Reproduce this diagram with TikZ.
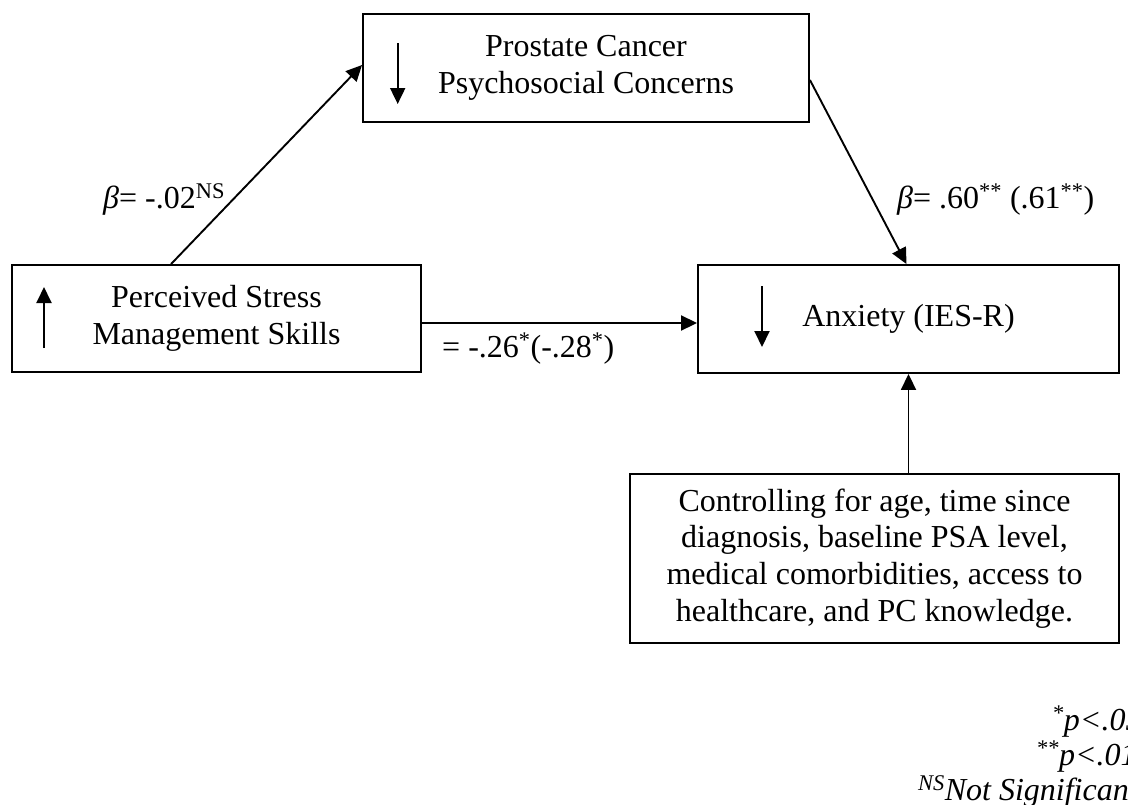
\documentclass[tikz,border=0pt]{standalone}
\usepackage{fontspec}
\setmainfont{Liberation Serif}
\usetikzlibrary{arrows.meta,calc}
\begin{document}
\begin{tikzpicture}[x=1pt,y=-1pt,
  every node/.style={font=\fontsize{32}{36.7}\selectfont},
  boxnode/.style={draw,line width=1.9pt,rectangle,inner sep=0pt,align=center},
  conn/.style={line width=1.9pt,-{Triangle[length=16pt,width=15pt]}},
  lbl/.style={anchor=base west,inner sep=0pt}]
\useasboundingbox (0,0) rectangle (1128,804);
\clip (0,0) rectangle (1128,804);
% boxes
\node[boxnode,minimum width=446pt,minimum height=108pt] (pc) at (586,68) {Prostate Cancer\\Psychosocial Concerns};
\node[boxnode,minimum width=409pt,minimum height=107pt] (ps) at (216.5,318.5) {Perceived Stress\\Management Skills};
\node[boxnode,minimum width=421pt,minimum height=108pt] (anx) at (908.5,319) {Anxiety (IES-R)};
\node[boxnode,minimum width=489pt,minimum height=169pt] (ctrl) at (874.5,558.5) {Controlling for age, time since\\diagnosis, baseline PSA level,\\medical comorbidities, access to\\healthcare, and PC knowledge.};
% direction arrows inside boxes
\draw[conn] (397.7,43) -- (397.7,104);
\draw[conn] (44,348) -- (44,287);
\draw[conn] (762,286) -- (762,347);
% connectors
\draw[conn] ([xshift=160pt]ps.north west) -- ([yshift=3pt]pc.west);
\draw[conn] ([yshift=-12pt]pc.east) -- ([xshift=-2pt]anx.north);
\draw[conn] ([yshift=-4.5pt]ps.east) -- ([yshift=-4pt]anx.west);
\draw[conn] (ctrl.north -| anx.south) -- (anx.south);
% labels
\node[lbl] (l1) at (103,208) {\textit{β}= -.02\textsuperscript{NS}};
\node[lbl] (l2) at (897,208) {\textit{β}= .60\textsuperscript{**} (.61\textsuperscript{**})};
\node[lbl] (l3) at (442,357) {= -.26\textsuperscript{*}(-.28\textsuperscript{*})};
% footnotes
\node[lbl] (f1) at (1052,730) {\itshape\textsuperscript{*}p<.05};
\node[lbl] (f2) at (1036,765) {\itshape\textsuperscript{**}p<.01};
\node[lbl] (f3) at (918,800) {\itshape\textsuperscript{NS}Not Significant};
\end{tikzpicture}
\end{document}
